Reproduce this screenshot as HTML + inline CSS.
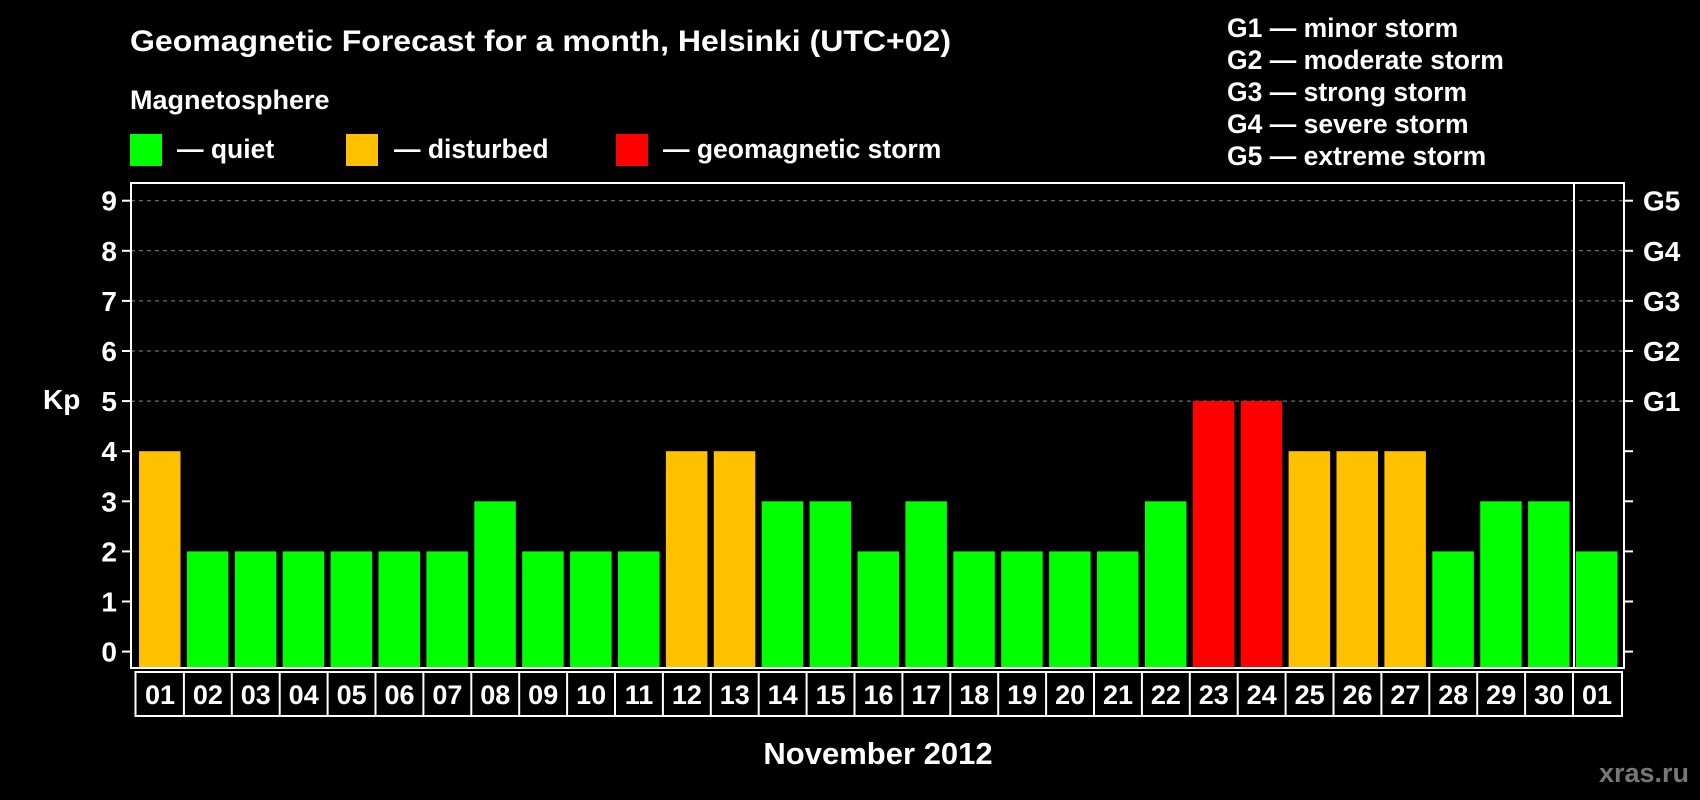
<!DOCTYPE html>
<html><head><meta charset="utf-8"><style>
body{margin:0;background:#000;}
svg{display:block;font-family:"Liberation Sans",sans-serif;font-weight:bold;}
</style></head><body>
<svg id="chart" width="1700" height="800" viewBox="0 0 1700 800" xmlns="http://www.w3.org/2000/svg">
<rect width="1700" height="800" fill="#000"/>
<text x="130" y="51" fill="#fff" font-size="30" textLength="821" lengthAdjust="spacingAndGlyphs">Geomagnetic Forecast for a month, Helsinki (UTC+02)</text>
<text x="130" y="109" fill="#fff" font-size="27">Magnetosphere</text>
<g><rect x="130" y="134" width="32" height="32" fill="#00ff00"/><text x="177" y="158" fill="#fff" font-size="26.5">— quiet</text></g>
<g><rect x="346" y="134" width="32" height="32" fill="#ffc000"/><text x="394" y="158" fill="#fff" font-size="26.5">— disturbed</text></g>
<g><rect x="616" y="134" width="32" height="32" fill="#ff0000"/><text x="663" y="158" fill="#fff" font-size="26.5">— geomagnetic storm</text></g>
<g fill="#fff" font-size="26.5">
<text x="1227" y="37">G1 — minor storm</text>
<text x="1227" y="69">G2 — moderate storm</text>
<text x="1227" y="101">G3 — strong storm</text>
<text x="1227" y="133">G4 — severe storm</text>
<text x="1227" y="165">G5 — extreme storm</text>
</g>
<text x="43" y="409" fill="#fff" font-size="28">Kp</text>
<text x="878" y="764" fill="#fff" font-size="31" text-anchor="middle">November 2012</text>
<text x="1689" y="782" fill="#777" font-size="27" text-anchor="end">xras.ru</text>
<g id="grid"></g><g id="bars"></g><g id="axes"></g>
</svg>
<script>
const days=["01","02","03","04","05","06","07","08","09","10","11","12","13","14","15","16","17","18","19","20","21","22","23","24","25","26","27","28","29","30","01"];
const kp=[4,2,2,2,2,2,2,3,2,2,2,4,4,3,3,2,3,2,2,2,2,3,5,5,4,4,4,2,3,3,2];
const yTicks=[0,1,2,3,4,5,6,7,8,9];
const gLabels=["G1","G2","G3","G4","G5"];
const NS="http://www.w3.org/2000/svg";
const L=131,R=1624,T=183,B=668;
const y=v=>651.6-v*50.1;
const x0=i=>139+i*47.9;
function mk(tag,attrs,parent,txt){const e=document.createElementNS(NS,tag);for(const k in attrs)e.setAttribute(k,attrs[k]);if(txt!=null)e.textContent=txt;parent.appendChild(e);return e;}
const grid=document.getElementById('grid'),bars=document.getElementById('bars'),axes=document.getElementById('axes');
yTicks.forEach(v=>{
  if(v>=5){const g=mk('line',{x1:L,x2:R,y1:y(v),y2:y(v),stroke:'#888','stroke-width':1,'stroke-dasharray':'4,4'},grid);
  
  }
  const t=mk('line',{x1:L-9,x2:L,y1:y(v),y2:y(v),stroke:'#fff','stroke-width':2},axes);
  
  
  const rt=mk('line',{x1:R,x2:R+9,y1:y(v),y2:y(v),stroke:'#fff','stroke-width':2},axes);
  
  
  const lb=mk('text',{x:117,y:y(v)+10,fill:'#fff','font-size':28,'text-anchor':'end'},axes,String(v));
  
  
});
gLabels.forEach((g,i)=>{
  const t=mk('text',{x:1643,y:y(5+i)+10,fill:'#fff','font-size':28},axes,g);
  
  
});
kp.forEach((v,i)=>{
  const c=v>=5?'#ff0000':(v>=4?'#ffc000':'#00ff00');
  const b=mk('rect',{x:x0(i),y:y(v),width:41.5,height:B-y(v),fill:c},bars);
  
  
});
const frame=mk('rect',{x:L,y:T,width:R-L,height:B-T,fill:'none',stroke:'#fff','stroke-width':2},axes);


const sep=mk('line',{x1:1574,x2:1574,y1:T,y2:B,stroke:'#fff','stroke-width':2},axes);


const box=mk('rect',{x:135.5,y:B+4,width:1486.5,height:44,fill:'none',stroke:'#fff','stroke-width':2},axes);


days.forEach((d,i)=>{
  if(i>0){const dv=mk('line',{x1:x0(i)-3,x2:x0(i)-3,y1:B+4,y2:B+48,stroke:'#fff','stroke-width':2},axes);
  
  }
  const t=mk('text',{x:x0(i)+21,y:B+36,fill:'#fff','font-size':27,'text-anchor':'middle'},axes,d);
  
  
});
</script>
</body></html>
